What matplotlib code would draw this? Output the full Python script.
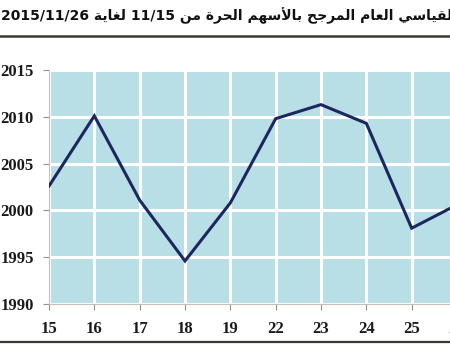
# -*- coding: utf-8 -*-
import numpy as np
from matplotlib import pyplot as plt

# donnees
days = ['15', '16', '17', '18', '19', '22', '23', '24', '25', '26']
index_values = [2002.6, 2010.1, 2001.1, 1994.6, 2000.8, 2009.8, 2011.3, 2009.3, 1998.1, 2000.6]
y_ticks = [1990, 1995, 2000, 2005, 2010, 2015]
title = 'الرقم القياسي العام المرجح بالأسهم الحرة من 11/15 لغاية 2015/11/26'

# formes contextuelles (matplotlib ne fait pas le shaping arabe)
FORMS = {
    'ا': ('\uFE8D', '\uFE8E', None, None),
    'أ': ('\uFE83', '\uFE84', None, None),
    'ب': ('\uFE8F', '\uFE90', '\uFE91', '\uFE92'),
    'ة': ('\uFE93', '\uFE94', None, None),
    'ج': ('\uFE9D', '\uFE9E', '\uFE9F', '\uFEA0'),
    'ح': ('\uFEA1', '\uFEA2', '\uFEA3', '\uFEA4'),
    'ر': ('\uFEAD', '\uFEAE', None, None),
    'س': ('\uFEB1', '\uFEB2', '\uFEB3', '\uFEB4'),
    'ع': ('\uFEC9', '\uFECA', '\uFECB', '\uFECC'),
    'غ': ('\uFECD', '\uFECE', '\uFECF', '\uFED0'),
    'ق': ('\uFED5', '\uFED6', '\uFED7', '\uFED8'),
    'ل': ('\uFEDD', '\uFEDE', '\uFEDF', '\uFEE0'),
    'م': ('\uFEE1', '\uFEE2', '\uFEE3', '\uFEE4'),
    'ن': ('\uFEE5', '\uFEE6', '\uFEE7', '\uFEE8'),
    'ه': ('\uFEE9', '\uFEEA', '\uFEEB', '\uFEEC'),
    'ي': ('\uFEF1', '\uFEF2', '\uFEF3', '\uFEF4'),
}
LAM_ALEF = {'ا': ('\uFEFB', '\uFEFC'), 'أ': ('\uFEF7', '\uFEF8')}


def shape_word(w):
    chars = []
    i = 0
    while i < len(w):
        if w[i] == 'ل' and i + 1 < len(w) and w[i + 1] in LAM_ALEF:
            chars.append(('LA', w[i + 1]))
            i += 2
        else:
            chars.append(('C', w[i]))
            i += 1
    out = []
    for k, (kind, c) in enumerate(chars):
        prev = chars[k - 1] if k > 0 else None
        nxt = chars[k + 1] if k + 1 < len(chars) else None
        join_prev = prev is not None and prev[0] == 'C' and FORMS[prev[1]][2] is not None
        if kind == 'LA':
            out.append(LAM_ALEF[c][1 if join_prev else 0])
            continue
        f = FORMS[c]
        join_next = nxt is not None and f[2] is not None
        if join_prev and join_next:
            out.append(f[3])
        elif join_prev:
            out.append(f[1])
        elif join_next:
            out.append(f[2])
        else:
            out.append(f[0])
    return ''.join(reversed(out))


def visual(text):
    words = text.split(' ')
    res = []
    for w in reversed(words):
        if any(c in FORMS for c in w):
            res.append(shape_word(w))
        else:
            res.append(w)
    return ' '.join(res)


fig = plt.figure(figsize=(4.5, 3.5), dpi=100)
fig.patch.set_facecolor('white')

ax = fig.add_axes([49 / 450, 1 - 304 / 350, (457 - 49) / 450, (304 - 70) / 350])
ax.set_facecolor('#b9dfe6')
x = np.arange(len(days))
ax.plot(x, index_values, color='#1c2760', linewidth=2.2, solid_joinstyle='miter', zorder=3)

ax.set_xlim(0, len(days) - 1)
ax.set_ylim(1990, 2015)
ax.set_xticks(x)
ax.set_xticklabels(days)
ax.set_yticks(y_ticks)
ax.grid(True, color='white', linewidth=2.2, zorder=1)
ax.set_axisbelow(True)

for s in ['top', 'right']:
    ax.spines[s].set_visible(False)
for s in ['left', 'bottom']:
    ax.spines[s].set_color('#c8c0b8')
    ax.spines[s].set_linewidth(0.8)

ax.tick_params(axis='y', length=4.5, width=0.8, color='#a09080', pad=6.5)
ax.tick_params(axis='x', length=4.5, width=0.8, color='#a09080', pad=8)
for lab in ax.get_xticklabels() + ax.get_yticklabels():
    lab.set_fontfamily('Liberation Serif')
    lab.set_fontweight('bold')
    lab.set_fontsize(12)
    lab.set_color('#1a1a1a')

# titre (coupe a droite comme sur l'original)
fig.text(0.002, 1 - 16 / 350, visual(title), ha='left', va='center',
         fontsize=10, fontweight='bold', family=['DejaVu Sans'], color='#111111')

# lignes de separation
fig.add_artist(plt.Line2D([0, 1], [1 - 36 / 350, 1 - 36 / 350], color='#3a3a33', linewidth=1.8))
fig.add_artist(plt.Line2D([0, 1], [1 - 342 / 350, 1 - 342 / 350], color='#3a3a33', linewidth=1.6))

fig.savefig('out.png', dpi=100)
